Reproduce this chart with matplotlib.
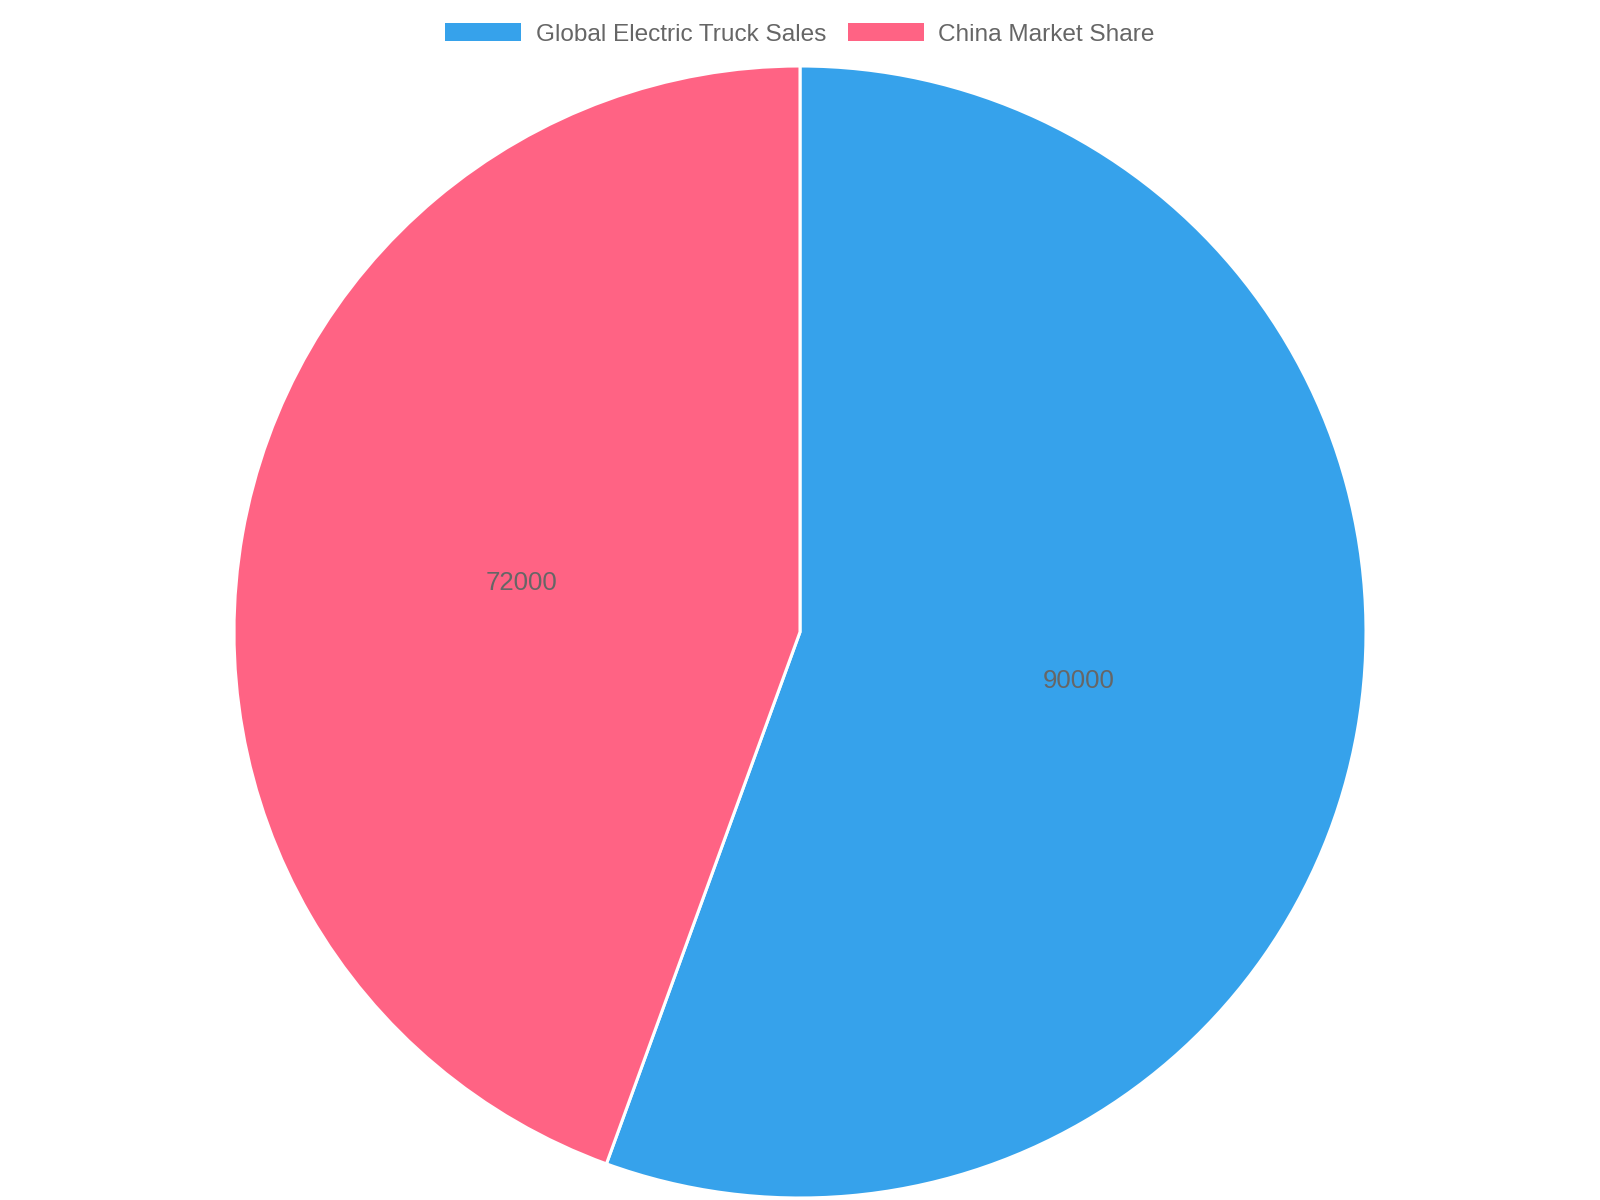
import matplotlib.pyplot as plt
from matplotlib.patches import Patch

labels = ["Global Electric Truck Sales", "China Market Share"]
values = [90000, 72000]
colors = ["#36A2EB", "#FF6384"]

plt.rcParams["font.family"] = ["Liberation Sans", "DejaVu Sans"]

fig = plt.figure(figsize=(16, 12), dpi=100)
# pie centre ~ (800, 632) px, radius ~566 px
cx, cy, r = 800, 632, 566
ax = fig.add_axes([(cx - r) / 1600, (1200 - cy - r) / 1200, 2 * r / 1600, 2 * r / 1200])

total = sum(values)
wedges, texts, autotexts = ax.pie(
    values,
    colors=colors,
    startangle=90,
    counterclock=False,
    radius=1,
    autopct=lambda p: f"{p * total / 100:.0f}",
    pctdistance=0.5,
    wedgeprops=dict(edgecolor="white", linewidth=2.2),
    textprops=dict(color="#666666", fontsize=18.5),
)
ax.set_xlim(-1, 1)
ax.set_ylim(-1, 1)
ax.set_aspect("equal")
ax.axis("off")

handles = [Patch(facecolor=c, edgecolor="none") for c in colors]
fig.legend(
    handles, labels,
    loc="upper center",
    bbox_to_anchor=(cx / 1600, 1 - 13 / 1200),
    ncol=2,
    frameon=False,
    fontsize=17.6,
    labelcolor="#666666",
    handlelength=3.1,
    handleheight=0.8,
    handletextpad=0.6,
    columnspacing=0.9,
    borderaxespad=0,
)

fig.savefig("out.png", dpi=100)
